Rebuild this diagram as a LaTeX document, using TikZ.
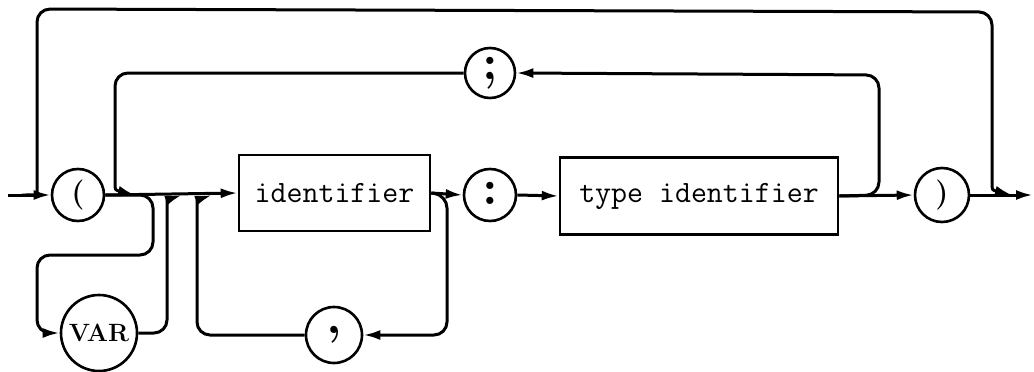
\documentclass[tikz,border=0pt]{standalone}
\usetikzlibrary{arrows.meta}
\begin{document}
\begin{tikzpicture}[x=1pt,y=-1pt,
  line width=3pt,
  arr/.style={-{Latex[length=17pt,width=10pt]}},
  rc/.style={rounded corners=13pt},
  term/.style={circle,draw,line width=2.6pt,inner sep=0pt},
  nonterm/.style={rectangle,draw,line width=2.6pt,inner sep=0pt,
    font=\ttfamily\fontsize{31}{31}\selectfont},
  punct/.style={font=\bfseries\fontsize{50}{50}\selectfont},
  paren/.style={font=\bfseries\fontsize{30}{30}\selectfont}]
\useasboundingbox (0,0) rectangle (1034,372);

% terminal symbols and the two boxes
\node[term,paren,minimum size=52] (lp) at (78,195) {(};
\node[term,punct,minimum size=50] (semi) at (490,73) {\raisebox{4pt}{;}};
\node[nonterm,minimum width=191,minimum height=76] (ident) at (334.5,193) {identifier};
\node[term,punct,minimum size=52] (colon) at (490,195) {\raisebox{4pt}{:}};
\node[nonterm,minimum width=278,minimum height=77] (tid) at (699,196) {type identifier};
\node[term,paren,minimum size=54] (rp) at (942,195) {)};
\node[term,minimum size=76,font=\bfseries\fontsize{25}{25}\selectfont] (var) at (99,333) {VAR};
\node[term,punct,minimum size=56] (comma) at (334,335) {\raisebox{10pt}{,}};

% loose ends of the main line
\coordinate (in) at (8,195);
\coordinate (out) at (1033,195);

% main line
\draw[arr] (in) -- (lp.west);
\draw[arr] (lp.east) -- (ident.west);
\draw[arr] (ident.east) -- (colon.west);
\draw[arr] (colon.east) -- (tid.west);
\draw[arr] (tid.east) -- (rp.west);
\draw[arr] (rp.east) -- (out);

% empty parameter list bypass
\draw[arr,rc] (22,195) .. controls (37,195) .. (37,180) -- (37,9) -- (992,12)
  -- (992,170) .. controls (992,190) .. (1012,195);

% repetition with ';'
\draw[arr,rc] (tid.east) -- (879,195) -- (879,75) -- (semi.east);
\draw[arr,rc] (semi.west) -- (115,73) -- (115,170) .. controls (115,190) .. (135,195);

% optional VAR
\draw[arr,rc] (lp.east) -- (153,195) -- (153,255) -- (37,255) -- (37,333) -- (var.west);
\draw[arr,rc] (var.east) -- (167,333) -- (167,218) .. controls (167,200) .. (182,195);

% repetition with ','
\draw[arr,rc] (ident.east) -- (447,195) -- (447,335) -- (comma.east);
\draw[arr,rc] (comma.west) -- (197,335) -- (197,218) .. controls (197,200) .. (212,195);
\end{tikzpicture}
\end{document}
